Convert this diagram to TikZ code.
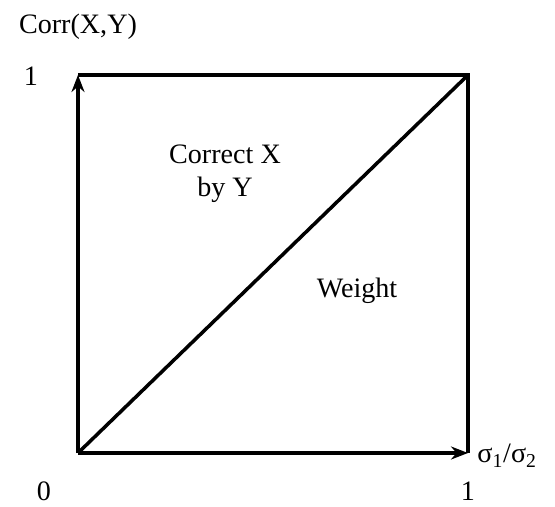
\documentclass[tikz,border=0pt]{standalone}
\usepackage{fontspec}
\setmainfont{Liberation Serif}
\usepackage{tikz}
\usetikzlibrary{arrows.meta, positioning}

\begin{document}
\begin{tikzpicture}[
    x=0.02cm, y=-0.02cm,
    edge/.style={line width=2pt, black},
    axis/.style={edge, -{Stealth[length=3.4mm, width=2.6mm]}},
    lbl/.style={font=\fontsize{16}{19}\selectfont, inner sep=0pt, align=center}
]
\useasboundingbox (0,0) rectangle (555,507);

% corners of the square
\coordinate (o) at (78,453);
\coordinate (tl) at (78,75);
\coordinate (tr) at (468,75);
\coordinate (br) at (468,453);

% axes
\draw[axis] (o) -- (tl);
\draw[axis] (o) -- (br);

% box and diagonal
\draw[edge] (tl) -- (tr) -- (br);
\draw[edge] (o) -- (tr);

% labels
\node[lbl] (ylab) at (78,27) {Corr(X,Y)};
\node[lbl] (yone) at (31,76) {1};
\node[lbl] (zero) at (44,491) {0};
\node[lbl] (xone) at (468,491) {1};
\node[lbl, anchor=west] (xlab) at (477,456) {σ\textsubscript{1}/σ\textsubscript{2}};
\node[lbl] (upper) at (225,174) {Correct X\\by Y};
\node[lbl] (lower) at (357,291) {Weight};

\end{tikzpicture}
\end{document}
